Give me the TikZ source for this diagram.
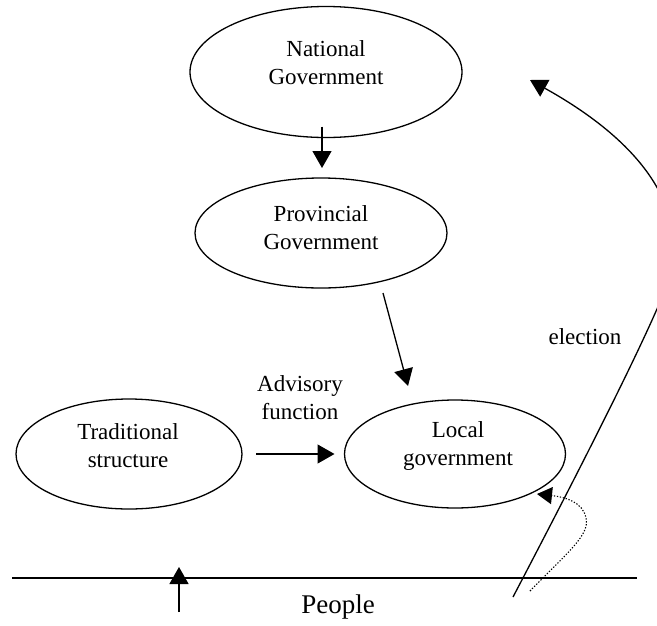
\documentclass[tikz,border=0pt]{standalone}
\usepackage{fontspec}
\setmainfont{Liberation Serif}
\usetikzlibrary{shapes.geometric,arrows.meta,calc}
\begin{document}
\begin{tikzpicture}[x=1pt,y=-1pt,
  oval/.style={draw,ellipse,line width=1.3pt,inner sep=0pt,outer sep=0pt},
  lbl/.style={align=center,font=\fontsize{23}{28}\selectfont,inner sep=0pt},
  tip/.style={-{Triangle[length=17pt,width=19pt]}},
  conn/.style={line width=1.3pt}]
\useasboundingbox (0,0) rectangle (657,625);
% ellipses
\node[oval,minimum width=272pt,minimum height=131pt] (nat) at (326,72) {};
\node[lbl] (natT) at (326,63) {National\\Government};
\node[oval,minimum width=252pt,minimum height=110pt] (prov) at (321,233) {};
\node[lbl] (provT) at (321,228) {Provincial\\Government};
\node[oval,minimum width=221pt,minimum height=108pt] (local) at (455,454) {};
\node[lbl] (localT) at (458,446) {Local\\government};
\node[oval,minimum width=226pt,minimum height=110pt] (trad) at (129,454) {};
\node[lbl] (tradT) at (128,446) {Traditional\\structure};
% labels
\node[lbl] (adv) at (300,398) {Advisory\\function};
\node[lbl] (elec) at (585,337) {election};
\node[lbl,font=\fontsize{27}{32}\selectfont] (people) at (338,607) {People};
% connector end points
\coordinate (n1) at ($(nat.south)+(-4,-11)$);
\coordinate (n2) at ($(prov.north)+(1,-10)$);
\coordinate (p1) at (383,293);
\coordinate (p2) at (408,386);
\coordinate (a1) at (256,454);
\coordinate (a2) at ($(local.west)+(-10,0)$);
\coordinate (t1) at (179,612);
\coordinate (t2) at (179,567);
\coordinate (h1) at (12,578);
\coordinate (h2) at (637,578);
\coordinate (e1) at (513,597);
\coordinate (e2) at (665,290);
\coordinate (e3) at (530,80);
\coordinate (d1) at (530,591);
\coordinate (d2) at (586,518);
\coordinate (d3) at (537,494);
% connectors
\draw[conn,tip] (n1) -- (n2);
\draw[conn,tip] (p1) -- (p2);
\draw[conn,tip] (a1) -- (a2);
\draw[conn,tip] (t1) -- (t2);
\draw[conn] (h1) -- (h2);
\draw[conn,tip] (e1) .. controls (590,450) and (645,340) .. (e2)
  .. controls (690,230) and (665,155) .. (e3);
\draw[line width=1.1pt,dash pattern=on 1.3pt off 1.7pt,-{Triangle[length=15pt,width=17pt]}]
  (d1) .. controls (568,552) and (590,535) .. (d2)
  .. controls (583,502) and (565,497) .. (d3);
\end{tikzpicture}
\end{document}
